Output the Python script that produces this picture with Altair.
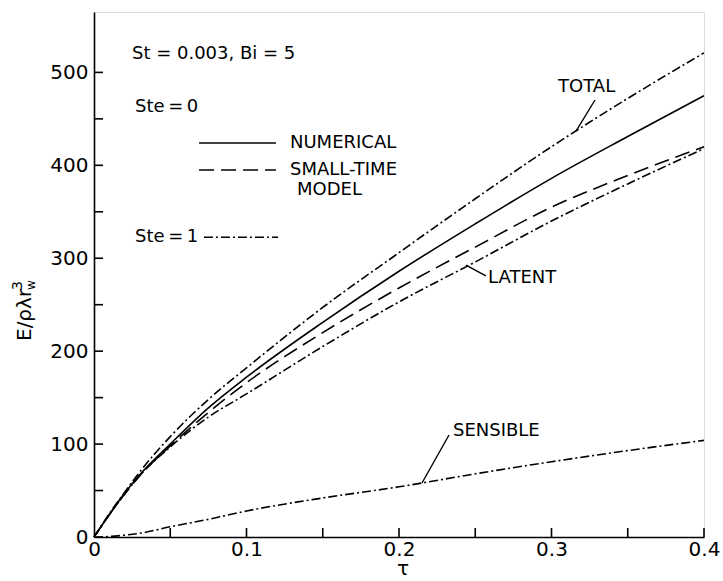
import altair as alt
import pandas as pd

# Dimensionless time and stored energy E/(rho*lambda*r_w^3)
tau = [0, 0.01, 0.02, 0.03, 0.05, 0.075, 0.1, 0.15, 0.2, 0.25, 0.3, 0.35, 0.4]
numerical = [0, 24, 47, 67, 100, 139, 172, 231, 286, 337, 386, 431, 475]
small_time = [0, 24, 46, 66, 98, 134, 166, 220, 268, 312, 355, 389, 420]
total_ste1 = [0, 25, 48, 70, 108, 148, 182, 247, 306, 364, 420, 472, 521]
latent_ste1 = [0, 24, 46, 66, 97, 129, 154, 205, 253, 296, 340, 380, 418]
sensible_ste1 = [0, 0.5, 2, 4, 11, 19, 28, 42, 54, 68, 81, 93, 104]

x_label_values = [0, 0.1, 0.2, 0.3, 0.4]
x_tick_values = [0.05, 0.1, 0.15, 0.2, 0.25, 0.3, 0.35, 0.4]
y_label_values = [0, 100, 200, 300, 400, 500]
y_tick_values = [50, 100, 150, 200, 250, 300, 350, 400, 450, 500]

W, H = 610, 525
FONT = "DejaVu Sans"
DASH = [15, 7]
DASHDOT = [9, 3, 2, 3]
THIN = "\u2009"

xs = alt.Scale(domain=[0, 0.4], nice=False, zero=False)
ys = alt.Scale(domain=[0, 565], nice=False, zero=False)


def curve(values, dash=None, width=1.6):
    df = pd.DataFrame({"tau": tau, "E": values})
    kw = {"color": "black", "strokeWidth": width, "interpolate": "monotone"}
    if dash is not None:
        kw["strokeDash"] = dash
    return alt.Chart(df).mark_line(**kw).encode(
        x=alt.X("tau:Q", scale=xs, title=None,
                axis=alt.Axis(values=x_label_values, format="~g", ticks=False, grid=False,
                              domainColor="black", domainWidth=1.6,
                              labelFont=FONT, labelFontSize=20, labelColor="black",
                              labelPadding=2, labelFlush=False)),
        y=alt.Y("E:Q", scale=ys, title=None,
                axis=alt.Axis(values=y_label_values, ticks=False, grid=False,
                              domainColor="black", domainWidth=1.6,
                              labelFont=FONT, labelFontSize=20, labelColor="black",
                              labelPadding=6)),
    )


lines = [
    curve(numerical),
    curve(small_time, DASH),
    curve(total_ste1, DASHDOT),
    curve(latent_ste1, DASHDOT),
    curve(sensible_ste1, DASHDOT),
]

# Inward ticks on both axes
xt = alt.Chart(pd.DataFrame({"t": x_tick_values})).mark_rule(color="black", strokeWidth=1.6).encode(
    x=alt.X("t:Q", scale=xs), y=alt.value(H), y2=alt.value(H - 9))
yt = alt.Chart(pd.DataFrame({"t": y_tick_values})).mark_rule(color="black", strokeWidth=1.6).encode(
    y=alt.Y("t:Q", scale=ys), x=alt.value(0), x2=alt.value(9))

# Text annotations placed in data coordinates
notes = pd.DataFrame({
    "tau": [0.0249, 0.0269, 0.1285, 0.1285, 0.1331, 0.0269, 0.3043, 0.2584, 0.2354],
    "E": [519.6, 462.4, 424.0, 395.0, 373.5, 322.6, 484.0, 278.7, 114.0],
    "label": ["St = 0.003,  Bi = 5", f"Ste{THIN}={THIN}0", "NUMERICAL", "SMALL-TIME", "MODEL",
              f"Ste{THIN}={THIN}1", "TOTAL", "LATENT", "SENSIBLE"],
})
note_marks = alt.Chart(notes).mark_text(
    font=FONT, fontSize=18, color="black", align="left", baseline="middle"
).encode(x=alt.X("tau:Q", scale=xs), y=alt.Y("E:Q", scale=ys), text="label:N")


def segment(x1, y1, x2, y2, dash=None, width=1.4):
    kw = {"color": "black", "strokeWidth": width}
    if dash is not None:
        kw["strokeDash"] = dash
    return alt.Chart(pd.DataFrame({"a": [x1], "b": [y1], "c": [x2], "d": [y2]})).mark_rule(**kw).encode(
        x=alt.X("a:Q", scale=xs), y=alt.Y("b:Q", scale=ys), x2="c:Q", y2="d:Q")


# Legend samples and leader lines
legend = [
    segment(0.0689, 424.0, 0.1193, 424.0, width=1.6),
    segment(0.0689, 395.0, 0.1193, 395.0, DASH, width=1.6),
    segment(0.0721, 322.6, 0.1207, 322.6, DASHDOT, width=1.6),
    segment(0.3285, 470.3, 0.3161, 436.9),
    segment(0.2439, 292.7, 0.2570, 280.9),
    segment(0.2328, 109.8, 0.2151, 58.1),
]

# Axis titles: E/(rho lambda r_w^3) and tau
ytitle = [
    alt.Chart(pd.DataFrame({"s": ["E/ρλr"]})).mark_text(
        font=FONT, fontSize=20, color="black", angle=270, align="left", baseline="alphabetic"
    ).encode(text="s:N", x=alt.value(-63), y=alt.value(329)),
    alt.Chart(pd.DataFrame({"s": ["3"]})).mark_text(
        font=FONT, fontSize=14, color="black", angle=270, align="left", baseline="alphabetic"
    ).encode(text="s:N", x=alt.value(-72), y=alt.value(278)),
    alt.Chart(pd.DataFrame({"s": ["w"]})).mark_text(
        font=FONT, fontSize=12, color="black", angle=270, align="left", baseline="alphabetic"
    ).encode(text="s:N", x=alt.value(-59), y=alt.value(278)),
]
xtitle = alt.Chart(pd.DataFrame({"s": ["τ"]})).mark_text(
    font=FONT, fontSize=20, color="black", align="center", baseline="alphabetic"
).encode(text="s:N", x=alt.value(309), y=alt.value(563))

chart = alt.layer(*lines, xt, yt, note_marks, *legend, *ytitle, xtitle).properties(
    width=W, height=H,
    autosize=alt.AutoSizeParams(type="none"),
    padding={"left": 94, "top": 12, "right": 19, "bottom": 44},
).configure_view(stroke=None).configure(background="white")

chart.save("out.html", embed_options={"renderer": "svg", "actions": False})
